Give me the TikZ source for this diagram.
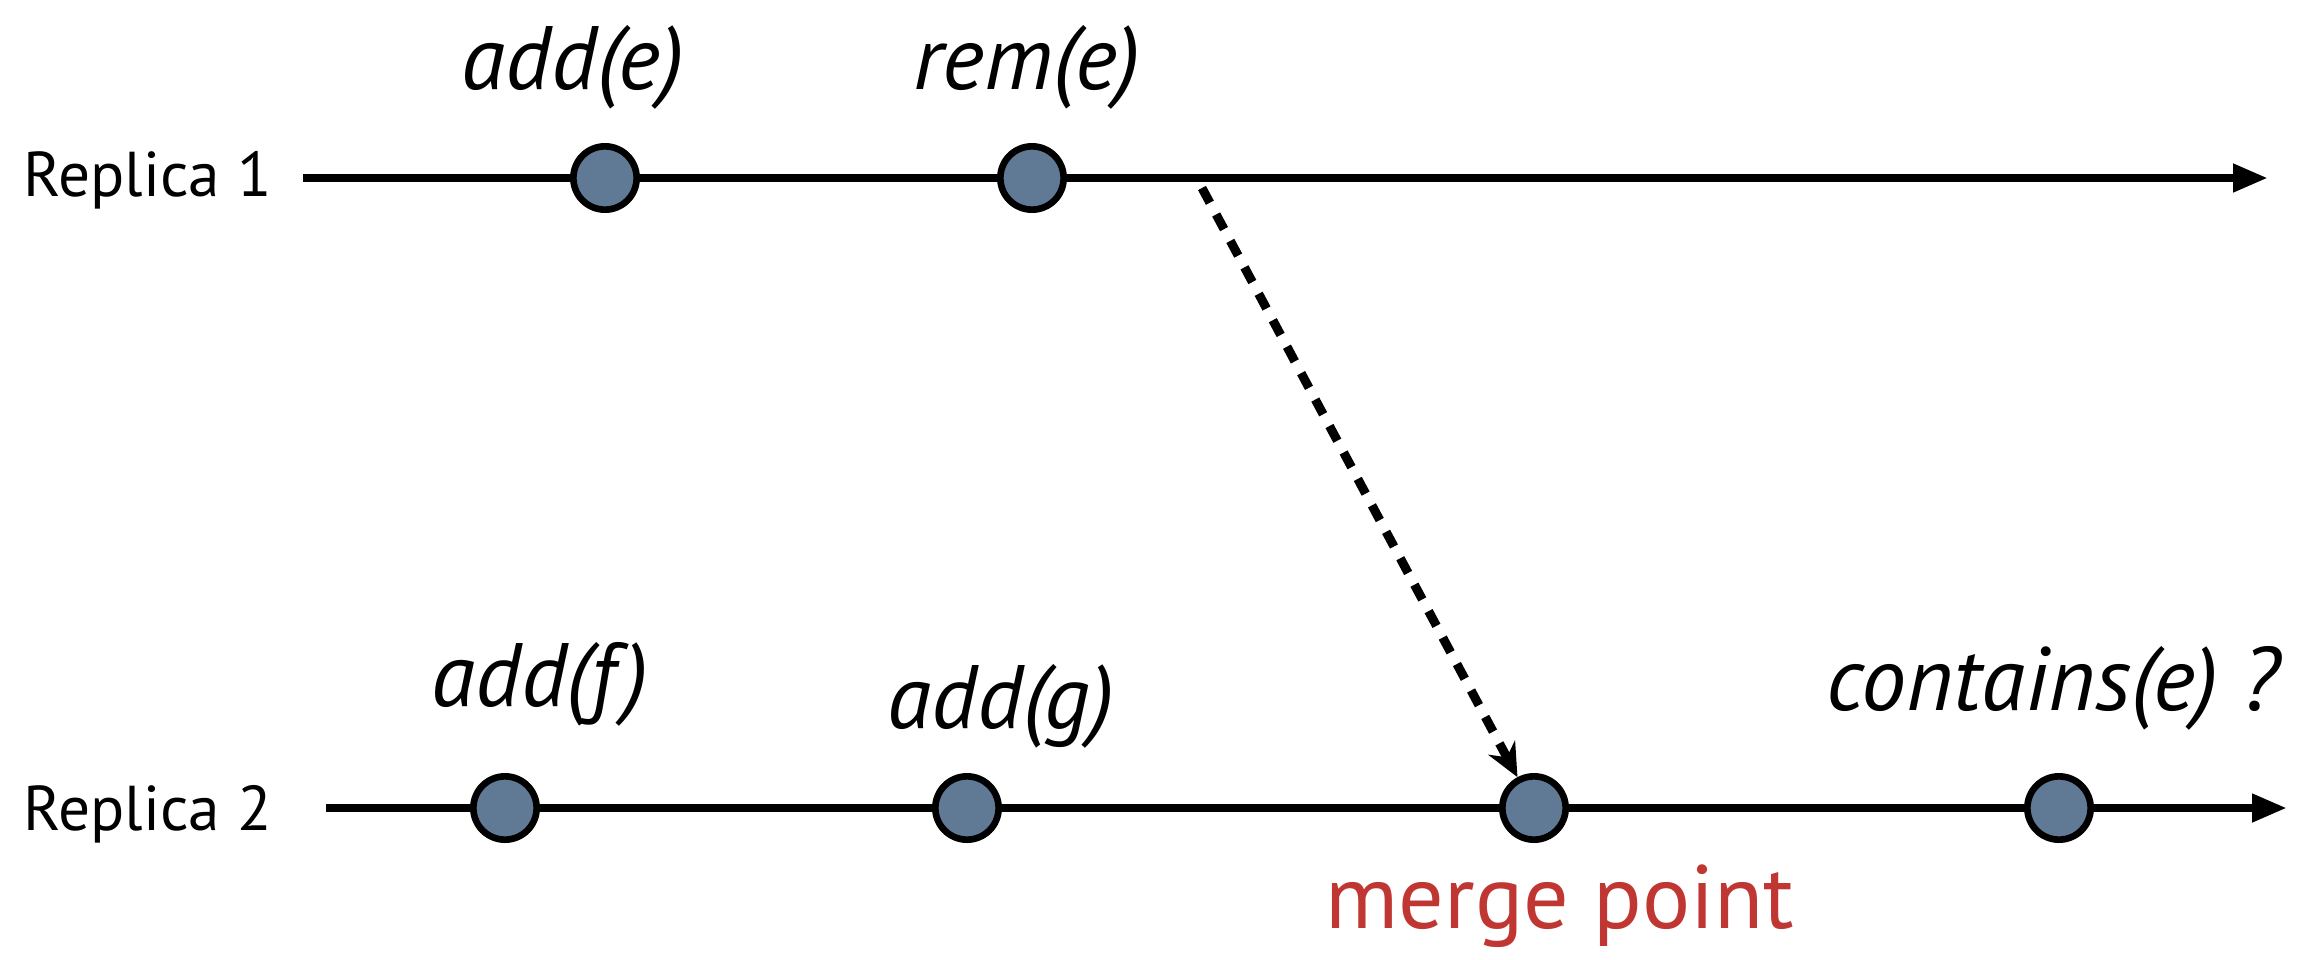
\documentclass[tikz,border=0pt]{standalone}
\usepackage{fontspec}
\setmainfont{PT Sans}
\usetikzlibrary{arrows.meta, positioning}
\definecolor{eventblue}{RGB}{96,121,148}
\definecolor{mergered}{RGB}{192,54,50}

\begin{document}
\begin{tikzpicture}[x=0.3pt, y=-0.3pt,
  event/.style={circle, draw, line width=2pt, fill=eventblue,
    minimum width=18.5pt, minimum height=19pt, inner sep=0pt},
  timeline/.style={line width=2.5pt, -{Triangle[length=10.5pt,width=8pt]}},
  op/.style={font=\fontsize{27}{31}\selectfont\itshape},
  replica/.style={font=\fontsize{19}{22}\selectfont, anchor=west}]
  \useasboundingbox (0,0) rectangle (2321,959);

  % replica 1
  \node[replica] (rep1) at (12,180) {Replica 1};
  \coordinate (r1start) at (303,178);
  \coordinate (r1end)   at (2268,178);
  \draw[timeline] (r1start) -- (r1end);
  \node[event] (addE) at (605,178) {};
  \node[event] (remE) at (1032,178) {};
  \node[op] (addEl) at (573,67)  {add(e)};
  \node[op] (remEl) at (1027,67) {rem(e)};
  \coordinate (send) at (1202,188);

  % replica 2
  \node[replica] (rep2) at (12,814) {Replica 2};
  \coordinate (r2start) at (326,808);
  \coordinate (r2end)   at (2287,808);
  \draw[timeline] (r2start) -- (r2end);
  \node[event] (addF)     at (505,808)  {};
  \node[event] (addG)     at (967,808)  {};
  \node[event] (merge)    at (1534,808) {};
  \node[event] (contains) at (2059,808) {};
  \node[op] (addFl)     at (540,684)  {add(f)};
  \node[op] (addGl)     at (1001,706) {add(g)};
  \node[op] (containsl) at (2053,688) {contains(e) ?};
  \node[font=\fontsize{27}{31}\selectfont, text=mergered] (mergel)
    at (1560,906) {merge point};

  % propagation
  \draw[line width=2.7pt, dash pattern=on 5pt off 4pt,
    -{Stealth[length=10pt,width=9pt]}] (send) -- (merge);
\end{tikzpicture}
\end{document}
